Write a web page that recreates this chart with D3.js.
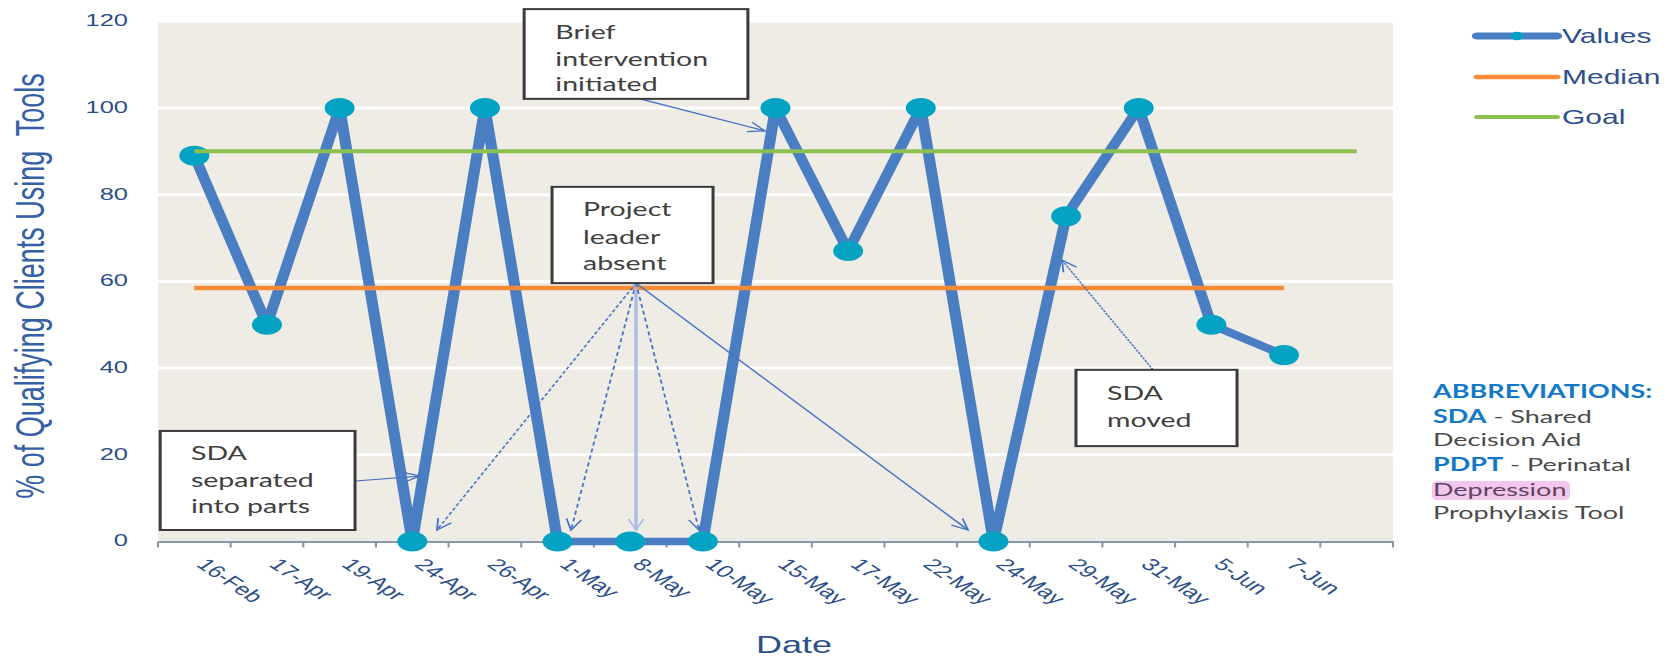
<!DOCTYPE html>
<html><head><meta charset="utf-8">
<script src="https://cdn.jsdelivr.net/npm/d3@7"></script>
<style>body{margin:0;background:#fff}svg{display:block}</style>
</head><body>
<svg id="c" width="1673" height="659"></svg>
<script>
// ---- data ----
const categories = ["16-Feb","17-Apr","19-Apr","24-Apr","26-Apr","1-May","8-May","10-May","15-May","17-May","22-May","24-May","29-May","31-May","5-Jun","7-Jun",""];
const values = [89,50,100,0,100,0,0,0,100,67,100,0,75,100,50,43];
const median = [58.5,58.5,58.5,58.5,58.5,58.5,58.5,58.5,58.5,58.5,58.5,58.5,58.5,58.5,58.5,58.5];
const goal = [90,90,90,90,90,90,90,90,90,90,90,90,90,90,90,90,90];
const yTicks = [0,20,40,60,80,100,120];
const seriesNames = ["Values","Median","Goal"];

// annotations in data space: x in category-index units, y in value units
const notes = [
  {lines:["Brief","intervention","initiated"], x0:5.04, x1:8.12, yT:122.8, yB:102.1, tx:5.47, ly:[117.5,111.3,105.5]},
  {lines:["Project","leader","absent"], x0:5.424, x1:7.64, yT:81.8, yB:59.6, tx:5.85, ly:[76.5,70.2,64.2]},
  {lines:["SDA","separated","into parts"], x0:0.03, x1:2.712, yT:25.5, yB:2.65, tx:0.454, ly:[20.4,14.2,8.0]},
  {lines:["SDA","moved"], x0:12.636, x1:14.853, yT:39.6, yB:22.0, tx:13.063, ly:[34.25,28.0]}
];
const arrows = [
  {f:[6.635,102.1], t:[8.355,94.7], dash:null},
  {f:[6.58,59.6], t:[3.84,2.65], dash:"3,2"},
  {f:[6.58,59.6], t:[5.685,2.65], dash:"4,3"},
  {f:[6.58,59.6], t:[6.58,2.65], dash:null, light:true},
  {f:[6.58,59.6], t:[7.447,2.65], dash:"4,3"},
  {f:[6.58,59.6], t:[11.15,2.65], dash:null},
  {f:[2.712,13.95], t:[3.606,15.1], dash:null},
  {f:[13.696,39.6], t:[12.444,64.9], dash:"2,1"}
];
const abbrev = [
  [{t:"ABBREVIATIONS:",b:true}],
  [{t:"SDA",b:true},{t:" - Shared"}],
  [{t:"Decision Aid"}],
  [{t:"PDPT",b:true},{t:" - Perinatal"}],
  [{t:"Depression",hl:true}],
  [{t:"Prophylaxis Tool"}]
];

// ---- layout ----
const SX = 1.5;               // horizontal stretch of the original picture
const px = v => v / SX;
const L = 158, R = 1393, Y0 = 541.5, Y120 = 21.25;
const svg = d3.select("#c");
const g = svg.append("g").attr("transform", `scale(${SX},1)`);
const x = d3.scaleBand().domain(d3.range(categories.length)).range([px(L), px(R)]).padding(0);
const xi = d3.scaleLinear().domain([0, categories.length]).range([px(L), px(R)]);
const y = d3.scaleLinear().domain([0,120]).range([Y0, Y120]);
const cx = i => x(i) + x.bandwidth()/2;

const AX = "Liberation Sans, Arial, sans-serif";
const TXT = "#2d4f8a";

const defs = svg.append("defs");
function mk(id, col){
  defs.append("marker").attr("id",id).attr("viewBox","-1 -7 14 14").attr("refX",11).attr("refY",0)
    .attr("markerWidth",14).attr("markerHeight",14).attr("markerUnits","userSpaceOnUse").attr("orient","auto")
    .append("path").attr("d","M0,-5L11,0L0,5").attr("fill","none").attr("stroke",col).attr("stroke-width",1.2);
}
mk("ah","#4472c4"); mk("ahl","#a9bde6");

// background
g.append("rect").attr("x",px(L)).attr("y",y(120)).attr("width",px(R)-px(L)).attr("height",y(0)-y(120)).attr("fill","#efebe5");
// gridlines
g.append("g").selectAll("line").data(yTicks.filter(v=>v>0)).join("line")
  .attr("x1",px(L)).attr("x2",px(R)).attr("y1",d=>y(d)).attr("y2",d=>y(d))
  .attr("stroke","#ffffff").attr("stroke-width",3);

// y tick labels
g.append("g").selectAll("text").data(yTicks).join("text")
  .attr("x",px(128)).attr("y",d=>y(d)-1).attr("dy","0.35em").attr("text-anchor","end")
  .attr("font-family",AX).attr("font-size",17).attr("fill",TXT).text(d=>d);

// x axis
const xa = g.append("g").attr("transform",`translate(0,${Y0})`)
  .call(d3.axisBottom(x).tickSize(0).tickFormat(i=>categories[i]));
xa.select(".domain").attr("stroke","#8797ad").attr("stroke-width",2);
xa.selectAll(".tick text").attr("font-family",AX).attr("font-size",17).attr("fill",TXT)
  .attr("text-anchor","start").attr("dy",0).attr("y",0)
  .attr("transform",`translate(${px(1)},24) rotate(45)`);
g.append("g").selectAll("line").data(d3.range(categories.length+1)).join("line")
  .attr("x1",d=>xi(d)).attr("x2",d=>xi(d)).attr("y1",Y0).attr("y2",Y0+6)
  .attr("stroke","#8797ad").attr("stroke-width",1.4);

// values series
g.append("path").datum(values).attr("fill","none").attr("stroke","#4a7ec2").attr("stroke-width",7.5)
  .attr("stroke-linejoin","round")
  .attr("d",d3.line().x((d,i)=>cx(i)).y(d=>y(d)));
g.append("g").selectAll("circle").data(values).join("circle")
  .attr("cx",(d,i)=>cx(i)).attr("cy",d=>y(d)).attr("r",10).attr("fill","#04a3c4");
// median & goal
g.append("path").datum(median).attr("fill","none").attr("stroke","#fb8b36").attr("stroke-width",4.5)
  .attr("d",d3.line().x((d,i)=>cx(i)).y(d=>y(d)));
g.append("path").datum(goal).attr("fill","none").attr("stroke","#8cc152").attr("stroke-width",4)
  .attr("d",d3.line().x((d,i)=>cx(i)).y(d=>y(d)));

// annotation arrows
g.append("g").selectAll("line").data(arrows).join("line")
  .attr("x1",d=>xi(d.f[0])).attr("y1",d=>y(d.f[1])).attr("x2",d=>xi(d.t[0])).attr("y2",d=>y(d.t[1]))
  .attr("stroke",d=>d.light?"#a9bde6":"#4472c4").attr("stroke-width",d=>d.light?2.2:1.2)
  .attr("stroke-dasharray",d=>d.dash).attr("marker-end",d=>d.light?"url(#ahl)":"url(#ah)");

// annotation boxes
const nb = g.append("g").selectAll("g").data(notes).join("g");
nb.append("rect").attr("x",d=>xi(d.x0)).attr("y",d=>y(d.yT)).attr("width",d=>xi(d.x1)-xi(d.x0)).attr("height",d=>y(d.yB)-y(d.yT))
  .attr("fill","#fff").attr("stroke","#3a3a3a").attr("stroke-width",2);
nb.each(function(d){
  d3.select(this).selectAll("text").data(d.lines).join("text")
    .attr("x",xi(d.tx)).attr("y",(t,k)=>y(d.ly[k])).attr("dy","0.35em")
    .attr("font-family","Lato, sans-serif").attr("font-size",19).attr("fill","#404040").text(t=>t);
});

// legend
const lg = g.append("g");
const legY = [36,77,117];
const legCol = ["#4a7ec2","#fb8b36","#8cc152"];
const legW = [7,4.5,4];
seriesNames.forEach((n,k)=>{
  lg.append("line").attr("x1",px(1477)).attr("x2",px(1557)).attr("y1",legY[k]).attr("y2",legY[k])
    .attr("stroke",legCol[k]).attr("stroke-width",legW[k]).attr("stroke-linecap","round");
  if(k===0) lg.append("circle").attr("cx",px(1517)).attr("cy",legY[k]).attr("r",4.2).attr("fill","#04a3c4");
  lg.append("text").attr("x",px(1562)).attr("y",legY[k]).attr("dy","0.35em")
    .attr("font-family",AX).attr("font-size",20).attr("fill",TXT).text(n);
});

// abbreviations
const abY = [392,417,440,465,490,513];
const ab = g.append("g");
ab.append("rect").attr("x",px(1432)).attr("y",481).attr("width",px(1570)-px(1432)).attr("height",19).attr("rx",4)
  .attr("fill","#f3c6ec");
abbrev.forEach((parts,k)=>{
  const t = ab.append("text").attr("x",px(1433)).attr("y",abY[k]).attr("dy","0.35em")
    .attr("font-family","Lato, sans-serif").attr("font-size",18).attr("xml:space","preserve").style("white-space","pre");
  parts.forEach(p=>{
    t.append("tspan").attr("font-weight",p.b?"bold":"normal")
      .attr("fill",p.b?"#1478c8":(p.hl?"#5e4560":"#4a4a4a")).text(p.t);
  });
});

// axis titles
g.append("text").attr("transform",`translate(${px(44)},286) rotate(-90)`).attr("text-anchor","middle")
  .attr("font-family",AX).attr("font-size",27).attr("fill","#3560a5").style("white-space","pre")
  .text("% of Qualifying Clients Using  Tools");
g.append("text").attr("x",px(794)).attr("y",653).attr("text-anchor","middle")
  .attr("font-family",AX).attr("font-size",24).attr("fill",TXT).text("Date");
</script>
</body></html>
